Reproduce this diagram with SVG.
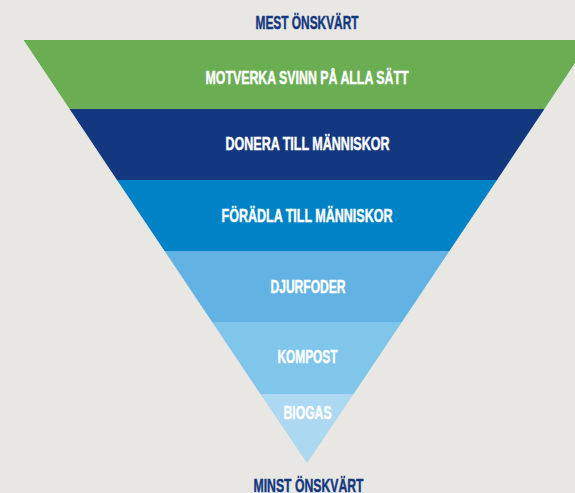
<svg xmlns="http://www.w3.org/2000/svg" width="575" height="493" viewBox="0 0 575 493">
<style>
.t{font-family:"Liberation Sans Narrow","Liberation Sans",Arial,sans-serif;font-weight:bold;font-size:18.3px;text-anchor:middle;stroke-width:0.45px}
.w{fill:#ffffff;stroke:#ffffff}
.d{fill:#14387f;stroke:#14387f}
</style>
<rect width="575" height="493" fill="#e8e7e3"/>
<text class="t d" x="307" y="29.3" textLength="103" lengthAdjust="spacingAndGlyphs">MEST ÖNSKVÄRT</text>
<g id="motverka">
<polygon points="23.6,40 590.4,40 544.4,109 69.6,109" fill="#6aad53"/>
<text class="t w" x="307" y="84" textLength="203" lengthAdjust="spacingAndGlyphs">MOTVERKA SVINN PÅ ALLA SÄTT</text>
</g>
<g id="donera">
<polygon points="69.6,109 544.4,109 497,180 117,180" fill="#14387f"/>
<text class="t w" x="307.5" y="150.3" textLength="164" lengthAdjust="spacingAndGlyphs">DONERA TILL MÄNNISKOR</text>
</g>
<g id="foradla">
<polygon points="117,180 497,180 449.4,251 164.6,251" fill="#0082c6"/>
<text class="t w" x="307" y="221.5" textLength="171" lengthAdjust="spacingAndGlyphs">FÖRÄDLA TILL MÄNNISKOR</text>
</g>
<g id="djurfoder">
<polygon points="164.6,251 449.4,251 401.9,322 212.1,322" fill="#62b3e3"/>
<text class="t w" x="308" y="292.5" textLength="75" lengthAdjust="spacingAndGlyphs">DJURFODER</text>
</g>
<g id="kompost">
<polygon points="212.1,322 401.9,322 353.6,394 260.4,394" fill="#80c6eb"/>
<text class="t w" x="307.5" y="363" textLength="60" lengthAdjust="spacingAndGlyphs">KOMPOST</text>
</g>
<g id="biogas">
<polygon points="260.4,394 353.6,394 307,463" fill="#acd8f1"/>
<text class="t w" x="307.5" y="419" textLength="48" lengthAdjust="spacingAndGlyphs">BIOGAS</text>
</g>
<text class="t d" x="308.5" y="492" textLength="110" lengthAdjust="spacingAndGlyphs">MINST ÖNSKVÄRT</text>
<g id="connectors"/>
</svg>
